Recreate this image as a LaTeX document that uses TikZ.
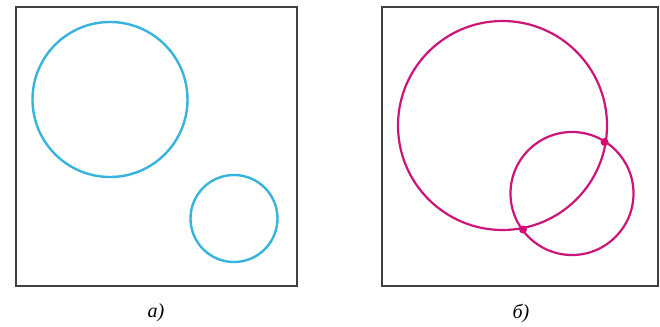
\documentclass[tikz,border=0pt]{standalone}
\usepackage{fontspec}
\setmainfont{Liberation Serif}
\begin{document}
\begin{tikzpicture}[x=1pt,y=-1pt,
  frame/.style={draw=black!75,line width=2pt,fill=white},
  bluec/.style={draw={rgb,255:red,55;green,180;blue,222},line width=2.4pt},
  pinkc/.style={draw={rgb,255:red,205;green,20;blue,120},line width=2.2pt},
  dotp/.style={circle,fill={rgb,255:red,215;green,10;blue,120},inner sep=0pt,minimum size=8pt},
  lbl/.style={font=\itshape\fontsize{20}{24}\selectfont}]
\useasboundingbox (0,0) rectangle (660,326);
\draw[frame] (16,7) rectangle (297,286);
\draw[frame] (382,7) rectangle (658,286);
\draw[bluec] (110,99.5) circle (77.5);
\draw[bluec] (234,218.5) circle (43.5);
\draw[pinkc] (502.5,125.5) circle (104.5);
\draw[pinkc] (572,193.5) circle (61.5);
\node[dotp] (p1) at (604.5,142) {};
\node[dotp] (p2) at (523,229.5) {};
\node[lbl] (la) at (156,313) {а)};
\node[lbl] (lb) at (521,313) {б)};
\end{tikzpicture}
\end{document}
